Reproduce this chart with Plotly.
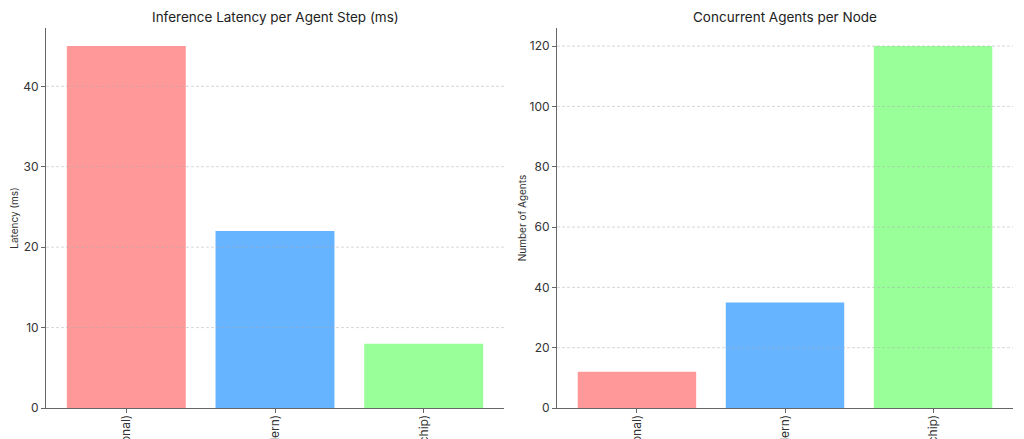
import plotly.graph_objects as go

categories = ["CPU (Traditional)", "GPU (Modern)", "NPU (On-chip)"]
latency_ms = [45, 22, 8]
agents_per_node = [12, 35, 120]
bar_colors = ["#ff9999", "#66b3ff", "#99ff99"]
latency_ticks = [0, 10, 20, 30, 40]
agents_ticks = [0, 20, 40, 60, 80, 100, 120]

W, H = 1024, 439
OFF = 8  # page body margin offset
FONT = "Inter"

fig = go.Figure()
fig.add_trace(go.Bar(x=categories, y=latency_ms, marker=dict(color=bar_colors, line=dict(width=0)),
                     width=0.8, xaxis="x", yaxis="y", showlegend=False))
fig.add_trace(go.Bar(x=categories, y=agents_per_node, marker=dict(color=bar_colors, line=dict(width=0)),
                     width=0.8, xaxis="x2", yaxis="y2", showlegend=False))

def px_x(a, b):
    return [(a - OFF) / W, (b - OFF) / W]

ydom = [1 - (408 - OFF) / H, 1 - (28 - OFF) / H]

axis_common = dict(showline=True, linecolor="#666666", linewidth=1, ticks="outside",
                   ticklen=4, tickcolor="#666666", tickfont=dict(family=FONT, size=12, color="#333333"),
                   zeroline=False, automargin=False, showgrid=False, layer="above traces")

xcommon = dict(axis_common, tickangle=-90, type="category", range=[-0.54, 2.54], ticklabelstandoff=-3)

shapes = []
for t in latency_ticks[1:]:
    shapes.append(dict(type="line", xref="x domain", yref="y", x0=0, x1=1, y0=t, y1=t, layer="above",
                       line=dict(color="rgba(170,170,170,0.6)", width=0.8, dash="3px,2px")))
for t in agents_ticks[1:]:
    shapes.append(dict(type="line", xref="x2 domain", yref="y2", x0=0, x1=1, y0=t, y1=t, layer="above",
                       line=dict(color="rgba(170,170,170,0.6)", width=0.8, dash="3px,2px")))

fig.update_layout(
    width=W, height=H,
    margin=dict(l=0, r=0, t=0, b=0),
    paper_bgcolor="white", plot_bgcolor="white",
    font=dict(family=FONT, color="#333333"),
    bargap=0.2,
    shapes=shapes,
    xaxis=dict(xcommon, domain=px_x(46, 504), anchor="y"),
    yaxis=dict(axis_common, domain=ydom, anchor="x", range=[0, 47.25], tickvals=latency_ticks,
               title=dict(text="Latency (ms)", font=dict(family=FONT, size=10, color="#333333"), standoff=4)),
    xaxis2=dict(xcommon, domain=px_x(557, 1013), anchor="y2"),
    yaxis2=dict(axis_common, domain=ydom, anchor="x2", range=[0, 126], tickvals=agents_ticks,
                title=dict(text="Number of Agents", font=dict(family=FONT, size=10, color="#333333"), standoff=1)),
    annotations=[
        dict(text="Inference Latency per Agent Step (ms)", x=((46 + 504) / 2 - OFF) / W, y=1 - (17 - OFF) / H,
             xref="paper", yref="paper", showarrow=False, xanchor="center", yanchor="middle",
             font=dict(family=FONT, size=13.5, color="#222222")),
        dict(text="Concurrent Agents per Node", x=((557 + 1013) / 2 - OFF) / W, y=1 - (17 - OFF) / H,
             xref="paper", yref="paper", showarrow=False, xanchor="center", yanchor="middle",
             font=dict(family=FONT, size=13.5, color="#222222")),
    ],
)

fig.write_html("out.html")
